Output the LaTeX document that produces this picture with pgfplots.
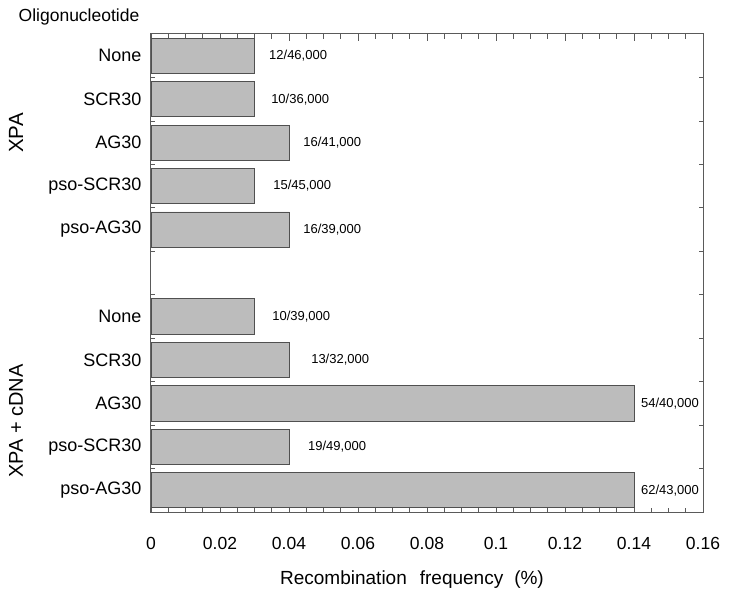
\documentclass[border=0pt]{standalone}
\usepackage{pgfplots}
\pgfplotsset{compat=1.18}
\usepackage{pgfplotstable}
\usepackage{fontspec}
\setmainfont{Liberation Sans}
\definecolor{barfill}{RGB}{188,188,188}
\definecolor{barline}{RGB}{80,80,80}
\definecolor{axline}{RGB}{90,90,90}
\pgfplotstableread{
slot val
0 0.03
1 0.03
2 0.04
3 0.03
4 0.04
6 0.03
7 0.04
8 0.14
9 0.04
10 0.14
}\bars
\pgfplotstableread{
slot pos lab
0 0.0342 12/46,000
1 0.0348 10/36,000
2 0.0441 16/41,000
3 0.0354 15/45,000
4 0.0441 16/39,000
6 0.0351 10/39,000
7 0.0464 13/32,000
8 0.1420 54/40,000
9 0.0455 19/49,000
10 0.1420 62/43,000
}\labs
\begin{document}
\begin{tikzpicture}
\begin{axis}[
  at={(151pt,90pt)}, anchor=south west,
  scale only axis, width=552pt, height=478pt,
  xmin=0, xmax=0.16, ymin=-0.5, ymax=10.5,
  y dir=reverse,
  axis line style={draw=axline, line width=1pt},
  xtick={0,0.02,0.04,0.06,0.08,0.1,0.12,0.14,0.16},
  xticklabels={0,0.02,0.04,0.06,0.08,0.1,0.12,0.14,0.16},
  scaled x ticks=false,
  minor x tick num=3,
  xtick pos=both, ytick pos=both,
  tick align=inside,
  major tick length=6.5pt, minor tick length=4.5pt,
  tick style={draw=axline, line width=0.8pt},
  xticklabel style={font=\fontsize{17.5}{20}\selectfont, yshift=-22pt},
  ytick={0,1,2,3,4,6,7,8,9,10},
  yticklabels={None,SCR30,AG30,pso-SCR30,pso-AG30,None,SCR30,AG30,pso-SCR30,pso-AG30},
  ytick style={draw=none},
  minor ytick={0.5,1.5,2.5,3.5,4.5,5.5,6.5,7.5,8.5,9.5},
  minor y tick style={draw=axline, line width=0.8pt},
  yticklabel style={font=\fontsize{18}{21}\selectfont, xshift=-6pt},
  clip=false,
]
\addplot[xbar, bar width=0.81, fill=barfill, draw=barline, line width=0.8pt]
  table[x=val, y=slot] {\bars};
\addplot[draw=none, mark=none, nodes near coords, point meta=explicit symbolic,
  nodes near coords style={anchor=west, inner sep=0pt, font=\fontsize{13}{15}\selectfont, text=black}]
  table[x=pos, y=slot, meta=lab] {\labs};
\end{axis}
\node[font=\fontsize{17.5}{20}\selectfont] at (79pt,585pt) {Oligonucleotide};
\node[font=\fontsize{20.5}{24}\selectfont, rotate=90] at (16pt,469pt) {XPA};
\node[font=\fontsize{20}{24}\selectfont, rotate=90] at (16pt,181pt) {XPA + cDNA};
\node[font=\fontsize{19}{22}\selectfont] at (412pt,22pt) {Recombination\hspace{13pt}frequency\hspace{11pt}(\%)};
\pgfresetboundingbox
\path[use as bounding box] (0pt,0pt) rectangle (729pt,602pt);
\end{tikzpicture}
\end{document}
